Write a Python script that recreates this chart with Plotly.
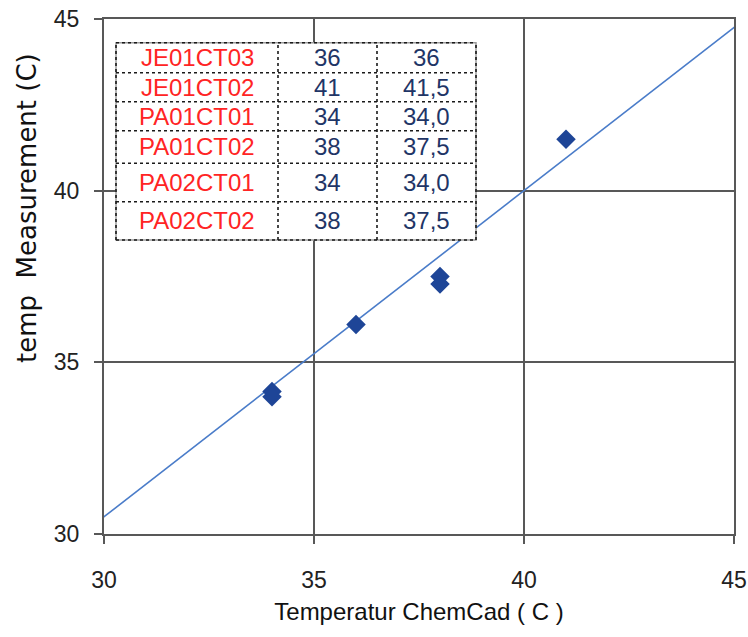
import plotly.graph_objects as go

# ---------------- data ----------------
chemcad_x = [34, 34, 36, 38, 38, 41]
measured_y = [34.15, 34.0, 36.1, 37.5, 37.28, 41.5]

trend_slope = 0.95
trend_intercept = 2.0
trend_x = [29.5, 45.2]

table_names = ["JE01CT03", "JE01CT02", "PA01CT01", "PA01CT02", "PA02CT01", "PA02CT02"]
table_chemcad = ["36", "41", "34", "38", "34", "38"]
table_measured = ["36", "41,5", "34,0", "37,5", "34,0", "37,5"]

x_ticks = [30, 35, 40, 45]
y_ticks = [30, 35, 40, 45]

# ---------------- figure ----------------
W, H = 748, 637
L, R, T, B = 104, 14, 19, 103
PW, PH = W - L - R, H - T - B


def px_to_paper_x(px):
    return (px - L) / PW


def px_to_paper_y(py):
    return (H - B - py) / PH


trend_y = [trend_slope * v + trend_intercept for v in trend_x]

fig = go.Figure()
fig.add_trace(go.Scatter(
    x=trend_x, y=trend_y, mode="lines",
    line=dict(color="#4A7CC9", width=1.6),
    showlegend=False, hoverinfo="skip"))
fig.add_trace(go.Scatter(
    x=chemcad_x, y=measured_y, mode="markers",
    marker=dict(symbol="diamond", size=15, color="#1E4597"),
    showlegend=False, cliponaxis=False))

axis_col = "#585858"
common_axis = dict(
    showgrid=True, gridcolor=axis_col, gridwidth=2,
    showline=True, linecolor=axis_col, linewidth=2, mirror=True,
    ticks="outside", ticklen=8, tickwidth=2, tickcolor=axis_col,
    zeroline=False, automargin=False,
    tickfont=dict(family="Liberation Sans", size=23, color="#222222"),
)

fig.update_xaxes(range=[30, 45], tickvals=x_ticks, ticklabelstandoff=16,
                 title=dict(text="Temperatur ChemCad ( C )",
                            font=dict(family="Liberation Sans", size=24, color="#111111"),
                            standoff=12),
                 **common_axis)
fig.update_yaxes(range=[30, 45], tickvals=y_ticks, ticklabelstandoff=10,
                 **common_axis)

# ---------------- in-plot table ----------------
col_px = [116, 278, 377, 476]
row_px = [42.7, 72.7, 101.7, 130.7, 163.3, 201.7, 240]
shapes = []
xs = [px_to_paper_x(v) for v in col_px]
ys = [px_to_paper_y(v) for v in row_px]
shapes.append(dict(type="rect", xref="paper", yref="paper",
                   x0=xs[0], x1=xs[-1], y0=ys[-1], y1=ys[0],
                   fillcolor="white", line=dict(color="#9a9a9a", width=1.5),
                   layer="above"))
for yv in ys:
    shapes.append(dict(type="line", xref="paper", yref="paper",
                       x0=xs[0], x1=xs[-1], y0=yv, y1=yv,
                       line=dict(color="#1a1a1a", width=1.6, dash="dot"), layer="above"))
for xv in xs:
    shapes.append(dict(type="line", xref="paper", yref="paper",
                       x0=xv, x1=xv, y0=ys[-1], y1=ys[0],
                       line=dict(color="#1a1a1a", width=1.6, dash="dot"), layer="above"))

annotations = []
tfont = dict(family="Liberation Sans", size=24)
for i in range(len(table_names)):
    yc = (ys[i] + ys[i + 1]) / 2
    cells = [(table_names[i], "#FF2424"), (table_chemcad[i], "#1F3566"),
             (table_measured[i], "#1F3566")]
    for j, (txt, col) in enumerate(cells):
        xc = (xs[j] + xs[j + 1]) / 2
        annotations.append(dict(xref="paper", yref="paper", x=xc, y=yc,
                                text=txt, showarrow=False,
                                xanchor="center", yanchor="middle",
                                font=dict(color=col, **tfont)))

annotations.append(dict(xref="paper", yref="paper",
                        x=px_to_paper_x(27), y=px_to_paper_y(208),
                        text="temp  Measurement (C)", textangle=-90,
                        showarrow=False, xanchor="center", yanchor="middle",
                        font=dict(family="DejaVu Sans", size=26, color="#111111")))

fig.update_layout(
    width=W, height=H,
    margin=dict(l=L, r=R, t=T, b=B, pad=0, autoexpand=False),
    paper_bgcolor="white", plot_bgcolor="white",
    shapes=shapes, annotations=annotations,
)

fig.write_html("out.html", config={"displayModeBar": False},
               post_script="document.body.style.margin='0';document.body.style.overflow='hidden';")
